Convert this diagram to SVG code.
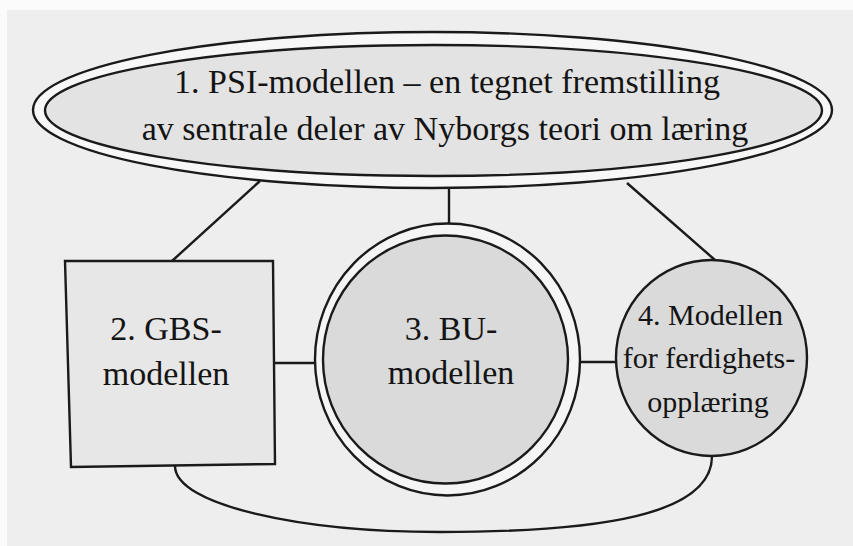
<svg xmlns="http://www.w3.org/2000/svg" width="853" height="546" viewBox="0 0 853 546">
  <style>
    .ln { fill: none; stroke: #1a1a1a; stroke-width: 2.4; }
    .shape { stroke: #1a1a1a; stroke-width: 2.4; }
    .lbl { font-family: "Liberation Serif", "Times New Roman", serif; fill: #141414; text-anchor: middle; }
  </style>
  <rect x="0" y="0" width="853" height="546" fill="#fbfbfb"/>
  <rect x="7" y="10" width="846" height="536" fill="#eeeeee"/>

  <!-- connectors -->
  <g id="connectors">
    <line class="ln" x1="260" y1="181" x2="172" y2="261"/>
    <line class="ln" x1="449" y1="188" x2="449" y2="224"/>
    <line class="ln" x1="627" y1="183" x2="715" y2="260"/>
    <line class="ln" x1="274" y1="363" x2="316" y2="363"/>
    <line class="ln" x1="579" y1="362" x2="617" y2="362"/>
    <path class="ln" d="M175,466 C175,505 300,532 440,532 C600,532 712,515 712,456"/>
  </g>

  <!-- 1: PSI-modellen (double ellipse) -->
  <g id="node-psi">
    <ellipse class="shape" cx="432.5" cy="110" rx="399.5" ry="78" fill="#f7f7f7"/>
    <ellipse class="shape" cx="433.5" cy="110.5" rx="388.5" ry="65.5" fill="#e3e3e3"/>
    <text class="lbl" x="447" y="93" font-size="34">1. PSI-modellen – en tegnet fremstilling</text>
    <text class="lbl" x="445" y="140" font-size="34">av sentrale deler av Nyborgs teori om læring</text>
  </g>

  <!-- 2: GBS-modellen (square) -->
  <g id="node-gbs">
    <polygon class="shape" points="65,261 273,261 275,464 71,467" fill="#e7e7e7"/>
    <text class="lbl" x="166" y="340" font-size="34">2. GBS-</text>
    <text class="lbl" x="166" y="385" font-size="34">modellen</text>
  </g>

  <!-- 3: BU-modellen (double circle) -->
  <g id="node-bu">
    <ellipse class="shape" cx="447.5" cy="359.5" rx="132.5" ry="136" fill="#f5f5f5"/>
    <ellipse class="shape" cx="445.5" cy="359.5" rx="122.5" ry="124" fill="#dadada"/>
    <text class="lbl" x="451" y="340" font-size="34">3. BU-</text>
    <text class="lbl" x="451" y="384" font-size="34">modellen</text>
  </g>

  <!-- 4: Modellen for ferdighetsopplæring (circle) -->
  <g id="node-ferdighet">
    <ellipse class="shape" cx="711.5" cy="358" rx="95.5" ry="98" fill="#dadada"/>
    <text class="lbl" x="710.5" y="325" font-size="30">4. Modellen</text>
    <text class="lbl" x="709" y="368" font-size="30">for ferdighets-</text>
    <text class="lbl" x="708" y="412" font-size="30">opplæring</text>
  </g>
</svg>
